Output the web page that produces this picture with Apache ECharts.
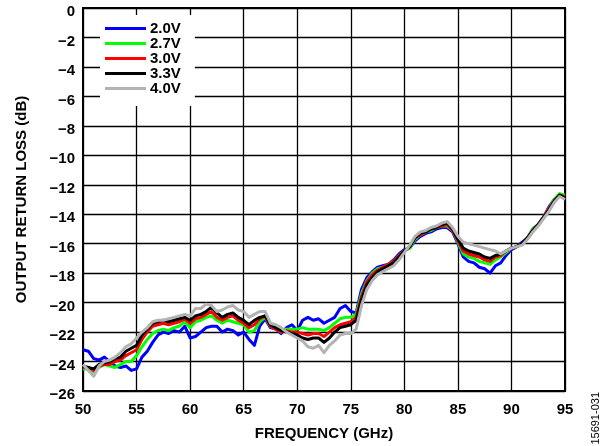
<!DOCTYPE html>
<html>
<head>
<meta charset="utf-8">
<script src="https://cdn.jsdelivr.net/npm/echarts@6/dist/echarts.min.js"></script>
<style>
  html, body { margin: 0; padding: 0; background: #fff; }
  #chart { width: 613px; height: 446px; }
</style>
</head>
<body>
<div id="chart"></div>
<script>
// Frequency sweep points (GHz)
const freqGHz = [
  50, 50.5, 51, 51.5, 52, 52.5, 53, 53.5, 54, 54.5,
  55, 55.5, 56, 56.5, 57, 57.5, 58, 58.5, 59, 59.5,
  60, 60.5, 61, 61.5, 62, 62.5, 63, 63.5, 64, 64.5,
  65, 65.5, 66, 66.5, 67, 67.5, 68, 68.5, 69, 69.5,
  70, 70.5, 71, 71.5, 72, 72.5, 73, 73.5, 74, 74.5,
  75, 75.5, 76, 76.5, 77, 77.5, 78, 78.5, 79, 79.5,
  80, 80.5, 81, 81.5, 82, 82.5, 83, 83.5, 84, 84.5,
  85, 85.5, 86, 86.5, 87, 87.5, 88, 88.5, 89, 89.5,
  90, 90.5, 91, 91.5, 92, 92.5, 93, 93.5, 94, 94.5, 95
];

// Output return loss (dB) per supply voltage
const loss2V0 = [
  -23.2, -23.3, -23.8, -23.9, -23.7, -24.0, -24.3, -24.4, -24.3, -24.6,
  -24.5, -23.7, -23.3, -22.7, -22.2, -22.0, -22.1, -21.9, -22.0, -21.6,
  -22.4, -22.3, -22.0, -21.7, -21.6, -21.6, -22.0, -21.8, -21.9, -22.2,
  -22.0, -22.5, -22.9, -21.6, -21.1, -21.7, -21.8, -22.1, -21.7, -21.5,
  -21.9, -21.2, -21.0, -21.2, -21.1, -21.4, -21.2, -21.0, -20.4, -20.2,
  -20.6, -20.7, -19.1, -18.3, -17.9, -17.6, -17.5, -17.4, -17.1, -16.7,
  -16.4, -16.3, -15.8, -15.5, -15.3, -15.2, -15.0, -14.9, -14.9, -15.2,
  -16.0, -16.9, -17.2, -17.3, -17.6, -17.7, -18.0, -17.5, -17.3, -16.8,
  -16.4, -16.2, -15.9, -15.6, -15.0, -14.7, -14.2, -13.5, -13.0, -12.7, -12.8
];
const loss2V7 = [
  -24.5, -24.5, -24.7, -24.4, -24.2, -24.3, -24.4, -24.2, -24.0, -24.0,
  -23.6, -23.0, -22.5, -22.1, -21.9, -21.8, -21.9, -21.7, -21.6, -21.3,
  -21.7, -21.3, -21.2, -21.0, -20.9, -21.2, -21.4, -21.2, -21.3, -21.4,
  -21.5, -22.0, -21.9, -21.3, -21.0, -21.6, -21.8, -22.0, -21.8, -21.8,
  -21.8, -21.7, -21.8, -21.8, -21.8, -21.9, -21.7, -21.4, -21.1, -21.0,
  -21.0, -20.8, -19.4, -18.5, -18.0, -17.7, -17.6, -17.4, -17.2, -16.8,
  -16.5, -16.3, -15.7, -15.4, -15.2, -15.1, -14.9, -14.8, -14.8, -15.1,
  -15.9, -16.7, -16.9, -17.0, -17.2, -17.3, -17.4, -17.1, -16.9, -16.6,
  -16.3, -16.2, -16.0, -15.6, -15.0, -14.7, -14.2, -13.6, -13.0, -12.6, -12.7
];
const loss3V0 = [
  -24.4, -24.4, -24.6, -24.3, -24.2, -24.2, -24.0, -23.9, -23.6, -23.4,
  -23.2, -22.5, -22.0, -21.6, -21.5, -21.4, -21.5, -21.4, -21.3, -21.1,
  -21.4, -21.1, -21.0, -20.8, -20.6, -21.0, -21.2, -21.0, -20.9, -21.2,
  -21.4, -21.7, -21.5, -21.1, -20.9, -21.6, -21.8, -22.0, -21.9, -22.0,
  -22.0, -22.1, -22.2, -22.1, -22.1, -22.3, -22.0, -21.7, -21.5, -21.4,
  -21.3, -21.0, -19.6, -18.6, -18.1, -17.8, -17.6, -17.4, -17.2, -16.8,
  -16.5, -16.2, -15.6, -15.4, -15.2, -15.0, -14.9, -14.8, -14.7, -15.1,
  -15.8, -16.5, -16.7, -16.8, -16.9, -17.1, -17.2, -16.9, -16.8, -16.5,
  -16.3, -16.2, -16.0, -15.6, -15.1, -14.7, -14.2, -13.6, -13.1, -12.7, -12.8
];
const loss3V3 = [
  -24.3, -24.4, -24.5, -24.2, -24.1, -24.0, -23.8, -23.7, -23.3, -23.1,
  -22.9, -22.2, -21.8, -21.4, -21.3, -21.2, -21.3, -21.2, -21.1, -21.0,
  -21.2, -20.9, -20.8, -20.6, -20.3, -20.7, -21.0, -20.8, -20.7, -21.0,
  -21.2, -21.5, -21.2, -21.0, -20.9, -21.5, -21.7, -21.9, -22.0, -22.1,
  -22.2, -22.4, -22.5, -22.4, -22.4, -22.7, -22.4, -22.0, -21.7, -21.6,
  -21.5, -21.2, -19.8, -18.8, -18.3, -17.9, -17.7, -17.5, -17.3, -16.9,
  -16.5, -16.2, -15.6, -15.3, -15.2, -15.0, -14.9, -14.7, -14.6, -15.0,
  -15.7, -16.3, -16.5, -16.6, -16.7, -16.9, -17.0, -16.8, -16.7, -16.5,
  -16.3, -16.2, -16.0, -15.6, -15.1, -14.7, -14.2, -13.7, -13.1, -12.7, -12.9
];
const loss4V0 = [
  -24.2, -24.6, -25.0, -24.3, -24.0, -23.9, -23.7, -23.4, -23.0, -22.8,
  -22.4, -22.0, -21.7, -21.3, -21.2, -21.2, -21.1, -21.0, -20.9, -20.8,
  -20.9, -20.4, -20.4, -20.1, -20.2, -20.6, -20.5, -20.3, -20.2, -20.5,
  -20.6, -21.0, -20.8, -20.6, -20.6, -21.4, -21.5, -21.7, -22.0, -22.2,
  -22.4, -22.6, -23.0, -23.1, -22.9, -23.4, -22.9, -22.6, -22.2, -22.1,
  -22.1, -21.8, -20.2, -19.1, -18.5, -18.1, -17.9, -17.7, -17.5, -17.1,
  -16.6, -16.1, -15.5, -15.2, -15.1, -14.9, -14.8, -14.6, -14.5, -14.9,
  -15.5, -15.9, -16.0, -16.1, -16.2, -16.3, -16.4, -16.5, -16.7, -16.5,
  -16.3, -16.2, -16.1, -15.7, -15.2, -14.8, -14.3, -13.8, -13.2, -12.8, -13.0
];

const seriesNames = ['2.0V', '2.7V', '3.0V', '3.3V', '4.0V'];
const seriesColors = ['#0000ff', '#00ff00', '#ff0000', '#000000', '#b3b3b3'];
const seriesValues = [loss2V0, loss2V7, loss3V0, loss3V3, loss4V0];

const FONT = '"Liberation Sans", Arial, Helvetica, sans-serif';
const minus = v => (v < 0 ? '\u2212' + Math.abs(v) : String(v));

const chart = echarts.init(document.getElementById('chart'), null, { renderer: 'canvas' });

chart.setOption({
  animation: false,
  backgroundColor: '#ffffff',
  grid: {
    left: 83, right: 48, top: 8, bottom: 54,
    show: true, borderColor: '#000', borderWidth: 2, backgroundColor: 'transparent'
  },
  legend: {
    orient: 'vertical',
    left: 100, top: 15,
    padding: [6, 14, 10, 5],
    backgroundColor: '#ffffff',
    itemWidth: 41, itemHeight: 3, itemGap: 0,
    icon: 'rect',
    textStyle: { fontFamily: FONT, fontWeight: 'bold', fontSize: 15, color: '#000', padding: [0, 0, 0, -1] },
    data: seriesNames
  },
  xAxis: {
    type: 'value',
    min: 50, max: 95, interval: 5,
    name: 'FREQUENCY (GHz)',
    nameLocation: 'middle', nameGap: 35,
    nameTextStyle: { fontFamily: FONT, fontWeight: 'bold', fontSize: 15, color: '#000' },
    axisLine: { show: false },
    axisTick: { show: false },
    axisLabel: { fontFamily: FONT, fontWeight: 'bold', fontSize: 15, color: '#000', margin: 11 },
    splitLine: { show: true, lineStyle: { color: '#000', width: 1.3 } }
  },
  yAxis: {
    type: 'value',
    min: -26, max: 0, interval: 2,
    name: 'OUTPUT RETURN LOSS (dB)',
    nameLocation: 'middle', nameGap: 54,
    nameTextStyle: { fontFamily: FONT, fontWeight: 'bold', fontSize: 15, color: '#000' },
    axisLine: { show: false },
    axisTick: { show: false },
    axisLabel: {
      fontFamily: FONT, fontWeight: 'bold', fontSize: 15, color: '#000', margin: 8,
      verticalAlign: 'top', lineHeight: 8, formatter: minus
    },
    splitLine: { show: true, lineStyle: { color: '#000', width: 1.3 } }
  },
  graphic: [{
    type: 'text',
    left: 590, top: 392,
    rotation: Math.PI / 2,
    style: { text: '15691-031', font: '11px ' + FONT, fill: '#000' }
  }],
  series: seriesNames.map((name, i) => ({
    name,
    type: 'line',
    data: freqGHz.map((f, k) => [f, seriesValues[i][k]]),
    showSymbol: false,
    symbol: 'none',
    smooth: false,
    lineStyle: { color: seriesColors[i], width: 3, join: 'round' },
    itemStyle: { color: seriesColors[i] },
    emphasis: { disabled: true }
  }))
});
</script>
</body>
</html>
